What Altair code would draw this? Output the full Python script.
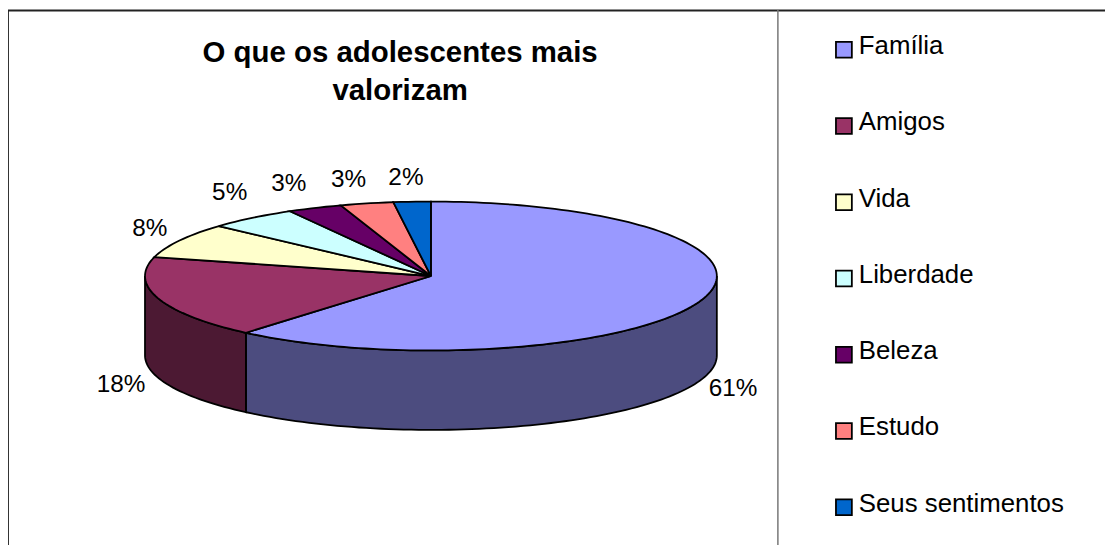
import math
import altair as alt

categories = ["Família", "Amigos", "Vida", "Liberdade", "Beleza", "Estudo", "Seus sentimentos"]
values = [61.2, 17.9, 7.6, 5.1, 3.1, 3.0, 2.1]
labels = ["61%", "18%", "8%", "5%", "3%", "3%", "2%"]
colors = ["#9999FF", "#993366", "#FFFFCC", "#CCFFFF", "#660066", "#FF8080", "#0066CC"]
side_colors = ["#4C4C7F", "#4C1933", "#7F7F66", "#667F7F", "#330033", "#7F4040", "#003366"]
title_lines = ["O que os adolescentes mais", "valorizam"]

W, H = 1105, 539
CX, CY = 426, 268      # pie centre inside the chart
RX, RY = 288, 75
DEPTH = 80
RATIO = RY / RX
LABEL_GAP_X, LABEL_GAP_Y = 33, 24
label_shift_x = [3, -6, -1, -2, -13, -11, -4]
label_shift_y = [0, 0, 0, -6, -2, 0, 0]

proj = dict(type="identity", scale=RX, translate=[CX, CY], reflectY=True)


def rim(deg, drop=0.0):
    a = math.radians(deg)
    return [math.sin(a), math.cos(a) * RATIO - drop]


def arc(a, b, drop=0.0):
    n = max(2, int(abs(b - a) / 1.5) + 1)
    return [rim(a + (b - a) * i / (n - 1), drop) for i in range(n)]


def feature(ring, **props):
    ring = ring + [ring[0]]
    return {"type": "Feature", "properties": props,
            "geometry": {"type": "Polygon", "coordinates": [ring]}}


total = sum(values)
starts, acc = [], 0.0
for v in values:
    starts.append(acc / total * 360)
    acc += v
ends = starts[1:] + [360.0]

tops, sides, text_rows = [], [], []
drop = DEPTH / RX
for i, cat in enumerate(categories):
    s, e = starts[i], ends[i]
    tops.append(feature([[0.0, 0.0]] + arc(s, e), name=cat))
    a, b = max(s, 90.0), min(e, 270.0)
    if a < b:
        sides.append(feature(arc(a, b) + arc(b, a, drop), name=cat, side=side_colors[i]))
    m = (s + e) / 2
    r = math.radians(m)
    lon = (math.sin(r) * (RX + LABEL_GAP_X) + label_shift_x[i]) / RX
    lat = (math.cos(r) * (RY + LABEL_GAP_Y) - label_shift_y[i]) / RX - (drop if 90 < m < 270 else 0)
    text_rows.append({"lon": lon, "lat": lat, "label": labels[i]})

side_layer = alt.Chart(alt.Data(values=sides)).mark_geoshape(
    stroke="black", strokeWidth=1.8
).encode(fill=alt.Fill("properties.side:N", scale=None, legend=None)).project(**proj)

top_layer = alt.Chart(alt.Data(values=tops)).mark_geoshape(
    stroke="black", strokeWidth=1.8
).encode(
    color=alt.Color(
        "properties.name:N",
        scale=alt.Scale(domain=categories, range=colors),
        sort=categories,
        legend=alt.Legend(
            title=None, orient="none", legendX=829, legendY=23.6,
            symbolType="M-1,-0.56H1V1.44H-1Z", symbolSize=256, symbolStrokeColor="black",
            symbolStrokeWidth=1.8, symbolOpacity=1,
            labelFont="Liberation Sans", labelFontSize=26, labelColor="black",
            labelLimit=300, labelOffset=2, labelBaseline="middle",
            rowPadding=47.8,
        ),
    )
).project(**proj)

text_layer = alt.Chart(alt.Data(values=text_rows)).mark_text(
    font="Liberation Sans", fontSize=24.5, color="black", baseline="middle"
).encode(
    longitude="lon:Q", latitude="lat:Q", text="label:N"
).project(**proj)

frame_left = alt.Chart(alt.Data(values=[{}])).mark_rule(color="#333333", strokeWidth=2).encode(
    x=alt.value(0), y=alt.value(0), y2=alt.value(H))
frame_top = alt.Chart(alt.Data(values=[{}])).mark_rule(color="#222222", strokeWidth=2).encode(
    x=alt.value(0), x2=alt.value(W), y=alt.value(0.5))
frame_mid = alt.Chart(alt.Data(values=[{}])).mark_rule(color="#777777", strokeWidth=1.5).encode(
    x=alt.value(775.5), y=alt.value(0), y2=alt.value(H))

chart = alt.layer(
    frame_left, frame_top, frame_mid, side_layer, top_layer, text_layer
).properties(
    width=W, height=H,
    padding=0,
    autosize=alt.AutoSizeParams(type="none"),
    background="white",
    title=alt.TitleParams(
        text=title_lines, orient="top", anchor="start", align="center", frame="group",
        dx=395, offset=-121, font="Liberation Sans", fontSize=29.6, fontWeight="bold",
        color="black", lineHeight=38, baseline="alphabetic",
    ),
).configure_view(stroke=None)

chart.save("out.html", embed_options={"renderer": "svg", "actions": False})
